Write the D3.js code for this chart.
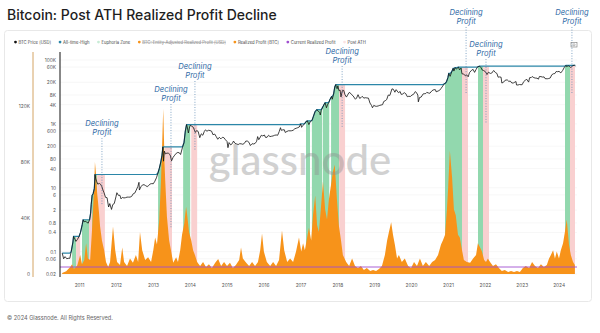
<!DOCTYPE html>
<html><head><meta charset="utf-8">
<script src="https://cdn.jsdelivr.net/npm/d3@7"></script>
<style>
html,body{margin:0;padding:0;background:#fff;}
svg{display:block;font-family:Inter,"Noto Sans",Roboto,sans-serif;}
</style></head>
<body><svg id="c" width="600" height="333"></svg>
<script>
// ---------------- DATA ----------------
const priceData = [
["2010-07-18",0.09],["2010-08-01",0.06],["2010-08-15",0.07],["2010-09-01",0.06],["2010-09-15",0.062],["2010-10-01",0.062],["2010-10-15",0.10],["2010-11-01",0.20],["2010-11-07",0.30],["2010-11-20",0.25],["2010-12-01",0.21],["2010-12-15",0.24],
["2011-01-01",0.30],["2011-01-15",0.40],["2011-02-01",0.70],["2011-02-10",1.00],["2011-02-20",0.85],["2011-03-01",0.90],["2011-03-15",0.85],["2011-04-01",0.78],["2011-04-15",1.00],["2011-04-25",1.60],["2011-05-01",3.0],["2011-05-10",5.8],["2011-05-20",6.5],["2011-06-01",9.5],["2011-06-08",26],["2011-06-15",19.0],["2011-06-25",15.5],["2011-07-05",13.0],["2011-07-20",13.7],["2011-08-01",13.0],["2011-08-15",10.8],["2011-08-25",8.5],["2011-09-05",7.0],["2011-09-20",5.0],["2011-10-05",4.9],["2011-10-20",2.5],["2011-11-01",3.2],["2011-11-18",2.1],["2011-12-01",3.0],["2011-12-15",3.2],
["2012-01-01",5.2],["2012-01-10",7.0],["2012-01-25",5.8],["2012-02-10",5.8],["2012-02-20",4.5],["2012-03-05",5.0],["2012-03-20",4.8],["2012-04-05",4.9],["2012-04-20",5.1],["2012-05-05",5.1],["2012-05-20",5.1],["2012-06-05",5.4],["2012-06-20",6.5],["2012-07-05",6.8],["2012-07-20",8.5],["2012-08-05",11.0],["2012-08-16",14.8],["2012-08-20",8.5],["2012-09-05",10.8],["2012-09-20",12.3],["2012-10-05",12.5],["2012-10-20",11.7],["2012-11-05",10.9],["2012-11-20",11.7],["2012-12-05",13.2],["2012-12-20",13.5],
["2013-01-05",13.4],["2013-01-20",16.0],["2013-02-05",20.5],["2013-02-20",29.0],["2013-03-05",40],["2013-03-20",64],["2013-04-01",104],["2013-04-10",190],["2013-04-16",68],["2013-04-25",140],["2013-05-05",115],["2013-05-20",122],["2013-06-05",120],["2013-06-20",108],["2013-07-05",70],["2013-07-20",90],["2013-08-05",105],["2013-08-20",120],["2013-09-05",128],["2013-09-20",124],["2013-10-02",110],["2013-10-20",180],["2013-11-05",260],["2013-11-18",600],["2013-11-30",950],["2013-12-07",800],["2013-12-18",520],["2013-12-28",740],
["2014-01-05",900],["2014-01-20",850],["2014-02-05",780],["2014-02-25",540],["2014-03-10",620],["2014-03-25",580],["2014-04-10",370],["2014-04-25",490],["2014-05-10",440],["2014-05-25",580],["2014-06-05",650],["2014-06-20",590],["2014-07-05",630],["2014-07-20",620],["2014-08-05",590],["2014-08-18",460],["2014-09-05",480],["2014-09-20",400],["2014-10-05",330],["2014-10-20",380],["2014-11-05",340],["2014-11-20",380],["2014-12-05",370],["2014-12-20",320],
["2015-01-05",280],["2015-01-14",180],["2015-01-25",260],["2015-02-10",220],["2015-02-25",240],["2015-03-10",290],["2015-03-25",245],["2015-04-10",235],["2015-04-25",225],["2015-05-10",240],["2015-05-25",238],["2015-06-10",230],["2015-06-25",245],["2015-07-10",290],["2015-07-25",290],["2015-08-10",265],["2015-08-24",210],["2015-09-10",240],["2015-09-25",235],["2015-10-10",245],["2015-10-25",285],["2015-11-04",400],["2015-11-15",320],["2015-11-25",360],["2015-12-10",440],["2015-12-25",420],
["2016-01-10",450],["2016-01-20",380],["2016-02-05",380],["2016-02-20",440],["2016-03-05",400],["2016-03-20",410],["2016-04-05",420],["2016-04-20",440],["2016-05-05",450],["2016-05-20",440],["2016-06-05",580],["2016-06-17",760],["2016-06-25",630],["2016-07-10",650],["2016-07-25",655],["2016-08-03",540],["2016-08-20",580],["2016-09-05",610],["2016-09-20",605],["2016-10-05",610],["2016-10-20",630],["2016-11-05",700],["2016-11-20",730],["2016-12-05",760],["2016-12-20",800],
["2017-01-04",1000],["2017-01-12",780],["2017-01-25",900],["2017-02-10",1000],["2017-02-25",1180],["2017-03-10",1250],["2017-03-25",950],["2017-04-10",1200],["2017-04-25",1280],["2017-05-10",1750],["2017-05-25",2400],["2017-06-12",2800],["2017-06-25",2500],["2017-07-10",2300],["2017-07-16",1900],["2017-07-25",2600],["2017-08-10",3400],["2017-08-25",4200],["2017-09-02",4600],["2017-09-15",3200],["2017-09-25",3900],["2017-10-10",4800],["2017-10-20",5800],["2017-11-05",7200],["2017-11-12",5900],["2017-11-25",8600],["2017-12-07",14500],["2017-12-17",17000],["2017-12-22",13800],["2017-12-30",12600],
["2018-01-06",15500],["2018-01-17",11000],["2018-01-28",11500],["2018-02-06",7000],["2018-02-20",11000],["2018-03-05",11200],["2018-03-18",8200],["2018-04-01",6900],["2018-04-25",9400],["2018-05-05",9600],["2018-05-20",8400],["2018-06-05",7600],["2018-06-29",5900],["2018-07-10",6400],["2018-07-25",8200],["2018-08-10",6300],["2018-08-25",6700],["2018-09-05",7300],["2018-09-20",6400],["2018-10-05",6600],["2018-10-20",6500],["2018-11-05",6400],["2018-11-20",4500],["2018-12-05",3800],["2018-12-15",3200],["2018-12-28",3800],
["2019-01-10",3600],["2019-01-25",3550],["2019-02-10",3650],["2019-02-25",3800],["2019-03-10",3900],["2019-03-25",4000],["2019-04-05",5000],["2019-04-20",5300],["2019-05-05",5800],["2019-05-20",8000],["2019-06-05",7800],["2019-06-26",12500],["2019-07-10",12100],["2019-07-25",9800],["2019-08-06",11800],["2019-08-29",9500],["2019-09-15",10300],["2019-09-25",8400],["2019-10-10",8600],["2019-10-26",9500],["2019-11-10",8800],["2019-11-25",7100],["2019-12-10",7300],["2019-12-25",7200],
["2020-01-10",8000],["2020-01-25",8400],["2020-02-13",10300],["2020-02-25",9300],["2020-03-08",8000],["2020-03-13",4900],["2020-03-25",6700],["2020-04-10",6900],["2020-04-30",8700],["2020-05-10",8800],["2020-05-25",8900],["2020-06-05",9700],["2020-06-20",9300],["2020-07-05",9100],["2020-07-27",11000],["2020-08-15",11800],["2020-08-30",11700],["2020-09-05",10100],["2020-09-25",10700],["2020-10-10",11300],["2020-10-25",13000],["2020-11-10",15300],["2020-11-25",18000],["2020-12-05",18500],["2020-12-17",21000],["2020-12-31",28000],
["2021-01-08",38000],["2021-01-22",30800],["2021-02-08",44000],["2021-02-21",55000],["2021-02-28",45000],["2021-03-13",58000],["2021-03-25",52000],["2021-04-14",60000],["2021-04-25",49000],["2021-05-10",56000],["2021-05-19",37000],["2021-06-01",36500],["2021-06-22",32500],["2021-07-05",34000],["2021-07-20",29800],["2021-08-01",40000],["2021-08-20",47000],["2021-09-06",51000],["2021-09-21",41000],["2021-10-05",50000],["2021-10-20",61000],["2021-11-10",64000],["2021-11-25",57000],["2021-12-04",49000],["2021-12-20",46500],
["2022-01-05",43500],["2022-01-22",35000],["2022-02-05",41500],["2022-02-24",38000],["2022-03-10",39000],["2022-03-29",47000],["2022-04-15",40500],["2022-04-30",38000],["2022-05-12",29000],["2022-05-25",29500],["2022-06-10",29000],["2022-06-18",19000],["2022-07-05",20200],["2022-07-20",23200],["2022-08-10",23900],["2022-08-25",21500],["2022-09-10",21800],["2022-09-25",19000],["2022-10-10",19100],["2022-10-25",20300],["2022-11-05",21200],["2022-11-10",16500],["2022-11-25",16500],["2022-12-10",17100],["2022-12-25",16800],
["2023-01-05",16900],["2023-01-20",21000],["2023-02-05",23300],["2023-02-20",24800],["2023-03-10",20300],["2023-03-20",28000],["2023-04-05",28200],["2023-04-14",30400],["2023-05-01",28000],["2023-05-15",27200],["2023-06-01",27000],["2023-06-15",25100],["2023-06-25",30500],["2023-07-10",30200],["2023-07-25",29200],["2023-08-10",29500],["2023-08-20",26100],["2023-09-10",25800],["2023-09-25",26300],["2023-10-10",27400],["2023-10-25",34400],["2023-11-10",37000],["2023-11-25",37700],["2023-12-08",43700],["2023-12-20",43000],
["2024-01-05",44000],["2024-01-23",39500],["2024-02-10",47100],["2024-02-28",60000],["2024-03-14",68000],["2024-03-20",62000],["2024-04-05",66000],["2024-04-20",63000],["2024-05-01",57500],["2024-05-20",67000],["2024-06-05",68500],["2024-06-15",65000]
];

// Realized profit [BTC], thousands; time as fractional year
const realizedProfit = [
[2010.54,0.7],[2010.65,2],[2010.76,5],[2010.81,7],[2010.86,3.5],[2010.95,6],[2011.03,13.5],[2011.08,7],[2011.14,10],[2011.19,22],[2011.24,11],[2011.30,10],[2011.35,31],[2011.41,63],[2011.43,80],[2011.46,71],[2011.49,58],[2011.54,44],[2011.57,34],[2011.62,24],[2011.68,17],[2011.73,8.5],[2011.79,5],[2011.84,8.5],[2011.92,34],[2011.98,17],
[2012.03,8.5],[2012.11,6.5],[2012.17,19],[2012.22,8.5],[2012.30,5.7],[2012.38,11],[2012.46,8],[2012.54,13.5],[2012.60,8.5],[2012.65,30],[2012.71,17],[2012.79,10],[2012.87,12],[2012.95,8.5],
[2013.01,17],[2013.06,26],[2013.11,21],[2013.17,38],[2013.22,67],[2013.28,118],[2013.30,96],[2013.33,69],[2013.38,41],[2013.44,24],[2013.49,17],[2013.55,8],[2013.63,12],[2013.68,8.5],[2013.74,17],[2013.79,28],[2013.85,36],[2013.90,48],[2013.93,42],[2013.98,30],
[2014.04,24],[2014.09,17],[2014.14,13.5],[2014.20,8.5],[2014.28,5.7],[2014.36,8.5],[2014.44,5],[2014.52,7],[2014.60,4.3],[2014.69,8],[2014.77,10.7],[2014.85,5.7],[2014.93,8.5],
[2015.01,5.7],[2015.09,8],[2015.17,4.3],[2015.25,6.4],[2015.34,10],[2015.39,19],[2015.44,11],[2015.53,8],[2015.61,5.7],[2015.69,8.5],[2015.77,5.7],[2015.85,8.5],[2015.91,17],[2015.96,29],
[2016.01,16],[2016.09,8.5],[2016.18,5.7],[2016.26,8.5],[2016.34,5.7],[2016.42,10],[2016.50,31],[2016.56,17],[2016.64,8.5],[2016.72,11],[2016.80,8.5],[2016.88,16],[2016.96,26],
[2017.02,16],[2017.07,22],[2017.12,17],[2017.18,26],[2017.23,33],[2017.29,24],[2017.34,42],[2017.40,56],[2017.45,35],[2017.50,30],[2017.56,49],[2017.61,66],[2017.67,46],[2017.72,39],[2017.77,53],[2017.83,64],[2017.88,73],[2017.93,78],[2017.99,53],
[2018.04,35],[2018.10,24],[2018.15,13.5],[2018.24,8.5],[2018.32,5.7],[2018.40,11],[2018.48,5.7],[2018.56,4.3],[2018.64,5.7],[2018.72,2.9],[2018.80,4.3],[2018.89,2.1],[2018.97,2.9],
[2019.05,2.1],[2019.13,3.6],[2019.21,5.7],[2019.29,13.5],[2019.35,24],[2019.40,30],[2019.46,37],[2019.51,28],[2019.56,21],[2019.62,11],[2019.67,13.5],[2019.75,8.5],[2019.83,11],[2019.92,5.7],
[2020.00,4.3],[2020.08,8.5],[2020.16,5.7],[2020.24,11],[2020.32,5.7],[2020.40,8.5],[2020.49,5.7],[2020.57,8.5],[2020.65,10],[2020.73,13.5],[2020.81,21],[2020.86,24],[2020.92,28],[2020.97,46],
[2021.00,60],[2021.05,88],[2021.11,69],[2021.16,46],[2021.21,42],[2021.27,28],[2021.32,26],[2021.38,17],[2021.43,10],[2021.51,8.5],[2021.60,8],[2021.68,11],[2021.76,13.5],[2021.81,22],[2021.87,19],[2021.92,16],[2021.98,10],
[2022.03,8.5],[2022.08,11],[2022.14,8.5],[2022.22,5.7],[2022.30,7],[2022.38,4.3],[2022.46,2.1],[2022.54,2.9],[2022.63,1.4],[2022.71,2.1],[2022.79,1.4],[2022.87,2.1],[2022.95,1.4],
[2023.03,4.3],[2023.11,5.7],[2023.20,4.3],[2023.28,8.5],[2023.36,5.7],[2023.44,4.3],[2023.52,7],[2023.60,5],[2023.68,6.4],[2023.74,11],[2023.79,13.5],[2023.85,17],[2023.90,11],[2023.95,16],
[2024.01,11],[2024.06,17],[2024.12,22],[2024.17,30],[2024.22,39],[2024.28,21],[2024.33,13.5],[2024.39,8.5],[2024.44,6.4]
];

const currentRealizedProfit = 5; // thousands

// zones: [start, end] fractional years
const euphoriaZones = [[2010.81,2010.92],[2011.08,2011.27],[2011.35,2011.49],[2013.14,2013.28],[2013.82,2014.01],[2017.15,2017.26],[2017.31,2017.59],[2017.61,2017.78],[2017.83,2018.05],[2020.92,2021.38],[2021.81,2021.95],[2024.17,2024.31]];
const postAthZones = [[2010.92,2011.03],[2011.27,2011.35],[2011.49,2011.70],[2013.33,2013.52],[2014.04,2014.20],[2018.05,2018.21],[2021.38,2021.54],[2021.95,2022.11],[2024.31,2024.44]];

// annotation: date (fractional year), label level & line end on the price axis
const annotations = [
  {t:2011.62, top:359, bottom:2.85},
  {t:2013.49, top:4180, bottom:0.54},
  {t:2014.14, top:22000, bottom:151},
  {t:2018.13, top:64900, bottom:741},
  {t:2021.49, top:1080000, bottom:9250},
  {t:2022.03, top:107000, bottom:1060},
  {t:2024.36, top:1080000, bottom:9250}
];

const yearTicks = [2011,2012,2013,2014,2015,2016,2017,2018,2019,2020,2021,2022,2023,2024];
const logTicks = [100000,60000,20000,8000,4000,1000,600,200,80,40,10,6,2,0.8,0.4,0.1,0.06,0.02];
const logLabels = ["100K","60K","20K","8K","4K","1K","600","200","80","40","10","6","2","0.8","0.4","0.1","0.06","0.02"];
const linTicks = [0,40,80,120];
const linLabels = ["0","40K","80K","120K"];

const legendItems = [
  {label:"BTC Price [USD]", color:"#111"},
  {label:"All-time-High", color:"#2b86a8"},
  {label:"Euphoria Zone", color:"#c8ecd6"},
  {label:"BTC: Entity-Adjusted Realized Profit [USD]", color:"#f7931a", off:true},
  {label:"Realized Profit [BTC]", color:"#f7931a"},
  {label:"Current Realized Profit", color:"#a04fd0"},
  {label:"Post ATH", color:"#fbe3e3"}
];

// ---------------- RENDER ----------------
const fy = v => { const y=Math.floor(v); const a=Date.UTC(y,0,1), b=Date.UTC(y+1,0,1); return new Date(a+(v-y)*(b-a)); };
const parse = d3.utcParse("%Y-%m-%d");
const svg = d3.select("#c");

// card
svg.append("rect").attr("x",4.5).attr("y",30.5).attr("width",587).attr("height",271).attr("rx",3)
  .attr("fill","#fff").attr("stroke","#e8e8e8");

svg.append("text").attr("x",7).attr("y",20).attr("font-size",14).attr("font-weight",500).attr("fill","#1e1e1e")
  .text("Bitcoin: Post ATH Realized Profit Decline");
svg.append("text").attr("x",7).attr("y",320).attr("font-size",5.6).attr("fill","#666")
  .text("© 2024 Glassnode. All Rights Reserved.");

const x = d3.scaleUtc().domain([new Date(Date.UTC(2010,5,26)), new Date(Date.UTC(2024,6,1))]).range([60,577]);
const yLog = d3.scaleLog().domain([0.02,100000]).range([274,60]);
const yLin = d3.scaleLinear().domain([0,120]).range([274,106]);

const price = priceData.map(d=>({date:parse(d[0]), v:d[1]}));
let m = 0;
const ath = price.map(d=>{ m=Math.max(m,d.v); return {date:d.date, v:m}; });
const rp = realizedProfit.map(d=>({date:fy(d[0]), v:d[1]}));

// gridlines
svg.append("g").selectAll("line").data(logTicks).join("line")
  .attr("x1",60).attr("x2",577).attr("y1",d=>yLog(d)).attr("y2",d=>yLog(d))
  .attr("stroke","#f1f1f1").attr("stroke-width",0.6);

// zones
const defs = svg.append("defs");
const athArea = d3.area().x(d=>x(d.date)).y0(yLog(0.02)).y1(d=>yLog(d.v));
function drawZones(zones, color, name){
  zones.forEach((z,i)=>{
    const id = name+i;
    defs.append("clipPath").attr("id",id).append("rect")
      .attr("x",x(fy(z[0]))).attr("width",x(fy(z[1]))-x(fy(z[0]))).attr("y",0).attr("height",333);
    svg.append("path").datum(ath).attr("d",athArea).attr("fill",color).attr("clip-path",`url(#${id})`);
  });
}
drawZones(euphoriaZones,"#92d8ae","eu");
drawZones(postAthZones,"#f9d0d0","pa");

// realized profit area
svg.append("path").datum(rp)
  .attr("d", d3.area().x(d=>x(d.date)).y0(yLin(0)).y1(d=>yLin(d.v)))
  .attr("fill","#f7931a");

// current realized profit line
svg.append("line").attr("x1",60).attr("x2",577).attr("y1",yLin(currentRealizedProfit)).attr("y2",yLin(currentRealizedProfit))
  .attr("stroke","#a04fd0").attr("stroke-width",0.9);

// ATH line
svg.append("path").datum(ath).attr("d",d3.line().x(d=>x(d.date)).y(d=>yLog(d.v)))
  .attr("fill","none").attr("stroke","#2b86a8").attr("stroke-width",1.2);
// price line
svg.append("path").datum(price).attr("d",d3.line().x(d=>x(d.date)).y(d=>yLog(d.v)))
  .attr("fill","none").attr("stroke","#111").attr("stroke-width",0.8);

// axes
const gLog = svg.append("g").attr("transform","translate(60,0)")
  .call(d3.axisLeft(yLog).tickValues(logTicks).tickFormat((d,i)=>logLabels[i]).tickSize(0).tickPadding(4));
gLog.select(".domain").remove();
gLog.selectAll("text").attr("font-size",4.8).attr("fill","#555").attr("font-family","Inter,sans-serif");
svg.append("line").attr("x1",60).attr("x2",60).attr("y1",52).attr("y2",277).attr("stroke","#111").attr("stroke-width",1);

const gLin = svg.append("g").attr("transform","translate(33,0)")
  .call(d3.axisLeft(yLin).tickValues(linTicks).tickFormat((d,i)=>linLabels[i]).tickSize(0).tickPadding(3));
gLin.select(".domain").remove();
gLin.selectAll("text").attr("font-size",4.8).attr("fill","#555").attr("font-family","Inter,sans-serif");
svg.append("line").attr("x1",33).attr("x2",33).attr("y1",52).attr("y2",277).attr("stroke","#d4a464").attr("stroke-width",1);

const gX = svg.append("g").attr("transform","translate(0,281)")
  .call(d3.axisBottom(x).tickValues(yearTicks.map(y=>new Date(Date.UTC(y,0,1)))).tickFormat(d3.utcFormat("%Y")).tickSize(0).tickPadding(3));
gX.select(".domain").remove();
gX.selectAll("text").attr("font-size",4.8).attr("fill","#555").attr("font-family","Inter,sans-serif");

// watermark
svg.append("text").attr("x",300).attr("y",175).attr("text-anchor","middle").attr("font-size",42)
  .attr("font-weight",500).attr("fill","#8f8f8f").attr("opacity",0.4).attr("font-family","Lato,Inter,sans-serif")
  .text("glassnode");

// annotations
const ag = svg.append("g");
annotations.forEach(a=>{
  const ax = x(fy(a.t)), top = yLog(a.top), bot = yLog(a.bottom);
  ag.append("line").attr("x1",ax).attr("x2",ax).attr("y1",top).attr("y2",bot)
    .attr("stroke","#4f7fae").attr("stroke-width",0.7).attr("stroke-dasharray","1,1.6");
  ag.append("text").attr("x",ax).attr("y",top-12.3).attr("text-anchor","middle").attr("font-size",7.6)
    .attr("font-style","italic").attr("fill","#2f6aa6").text("Declining");
  ag.append("text").attr("x",ax).attr("y",top-3.3).attr("text-anchor","middle").attr("font-size",7.6)
    .attr("font-style","italic").attr("fill","#2f6aa6").text("Profit");
});

// legend
const lg = svg.append("g").attr("transform","translate(0,43.5)");
let lx = 14;
legendItems.forEach(it=>{
  lg.append("circle").attr("cx",lx+1.5).attr("cy",-1.4).attr("r",1.4).attr("fill",it.color);
  const t = lg.append("text").attr("x",lx+4.5).attr("y",0).attr("font-size",4.2).attr("fill",it.off?"#888":"#444").text(it.label);
  if (it.off) t.attr("text-decoration","line-through");
  lx += t.node().getComputedTextLength() + 12;
});

// camera icon
const cam = svg.append("g").attr("transform","translate(571,42)");
cam.append("rect").attr("width",6).attr("height",4.5).attr("y",0.5).attr("fill","none").attr("stroke","#777").attr("stroke-width",0.6);
cam.append("circle").attr("cx",3).attr("cy",2.8).attr("r",1.1).attr("fill","none").attr("stroke","#777").attr("stroke-width",0.5);
</script></body></html>
